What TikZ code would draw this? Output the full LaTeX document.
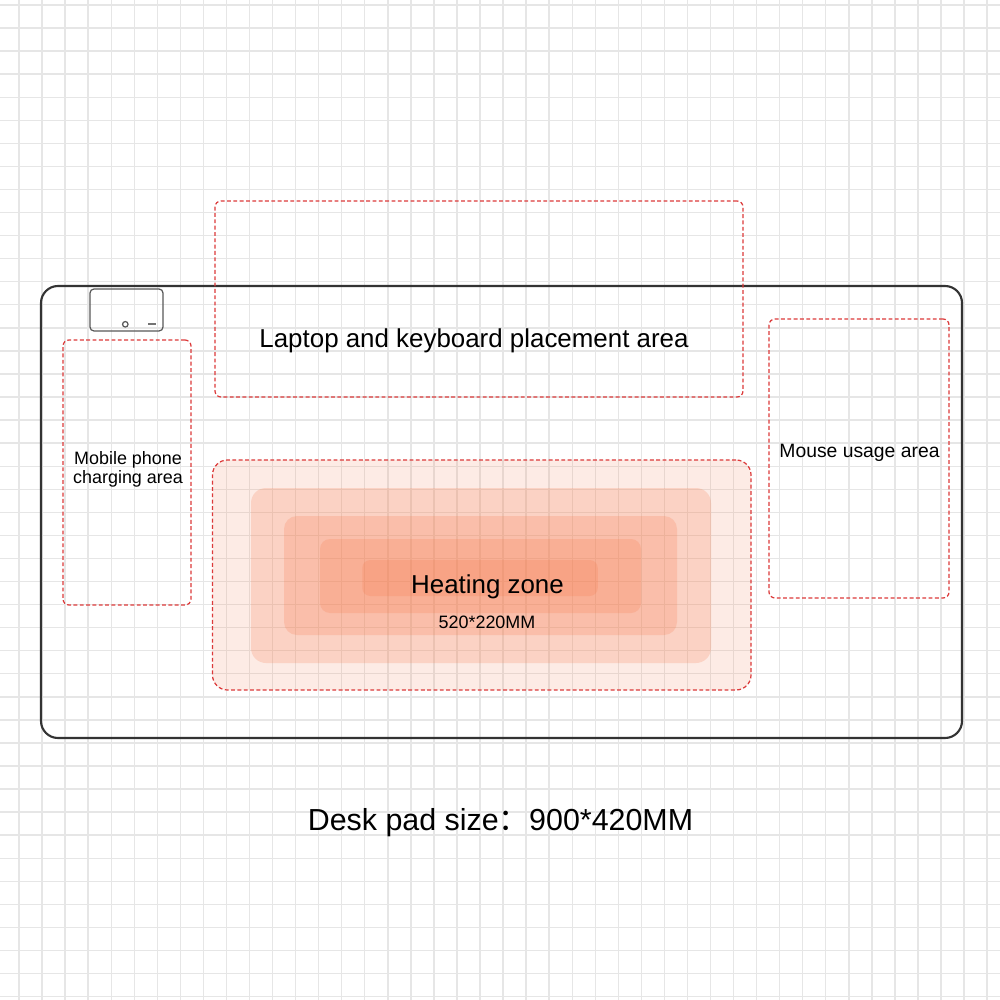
\documentclass[tikz,border=0pt]{standalone}
\usepackage{fontspec}
\setmainfont{Liberation Sans}
\newfontfamily\cjkfont{Noto Sans CJK SC}
\usepackage{xcolor}
\usepackage{tikz}
\usetikzlibrary{backgrounds}
\definecolor{gridgray}{HTML}{E6E6E6}
\definecolor{zonered}{HTML}{DC3A3A}
\definecolor{heatorange}{HTML}{F7784A}
\definecolor{padgray}{HTML}{333333}
\tikzset{
  gridln/.style={gridgray,line width=0.4pt},
  padbox/.style={draw=padgray,line width=0.6pt,rounded corners=1.7mm,inner sep=0pt},
  chgbox/.style={draw=black!65,line width=0.35pt,rounded corners=0.4mm,inner sep=0pt},
  zonebox/.style={draw=zonered,line width=0.35pt,dash pattern=on 1.1pt off 0.7pt,rounded corners=0.6mm,inner sep=0pt},
  heatlayer/.style={fill=heatorange,fill opacity=0.21,rounded corners=1.5mm,inner sep=0pt},
  lbl/.style={inner sep=0pt,anchor=base},
}

\begin{document}
\begin{tikzpicture}
  \useasboundingbox (0,0) rectangle (10,-10);
  \fill[white] (0,0) rectangle (10,-10);
  \foreach \k in {0,...,42}
    \draw[gridln] ({0.19+0.2305*\k},0) -- ({0.19+0.2305*\k},-10);
  \foreach \k in {0,...,43}
    \draw[gridln] (0,{-0.05-0.2306*\k}) -- (10,{-0.05-0.2306*\k});

  \node[padbox,minimum width=9.21cm,minimum height=4.52cm] (pad) at (5.015,-5.12) {};
  \node[chgbox,minimum width=0.73cm,minimum height=0.42cm] (chg) at (1.265,-3.10) {};
  \node[circle,draw=black!65,line width=0.35pt,minimum size=0.55mm,inner sep=0pt] (chgled) at (1.253,-3.243) {};
  \draw[black!55,line width=0.5pt] (1.48,-3.243) -- (1.56,-3.243);

  \node[zonebox,minimum width=5.28cm,minimum height=1.96cm] (laptop) at (4.79,-2.99) {};
  \node[zonebox,minimum width=1.28cm,minimum height=2.65cm] (phone) at (1.27,-4.725) {};
  \node[zonebox,minimum width=1.80cm,minimum height=2.79cm] (mouse) at (8.59,-4.585) {};

  \node[heatlayer,fill opacity=0.14,zonebox,rounded corners=1.5mm,minimum width=5.385cm,minimum height=2.30cm] (heat1) at (4.8175,-5.75) {};
  \foreach \i/\x/\y/\w/\h/\r in {2/4.81/-5.755/4.60/1.75/1.5mm, 3/4.805/-5.755/3.93/1.19/1.3mm,
      4/4.805/-5.76/3.21/0.74/1.0mm, 5/4.80/-5.78/2.355/0.36/0.8mm}
    \node[heatlayer,rounded corners=\r,minimum width=\w cm,minimum height=\h cm] (heat\i) at (\x,\y) {};

  \node[lbl,font=\fontsize{7.37}{8.8}\selectfont] (laptoplbl) at (4.74,-3.48) {Laptop and keyboard placement area};
  \node[inner sep=0pt,align=center,font=\fontsize{5.1}{5.2}\selectfont] (phonelbl) at (1.28,-4.695) {Mobile phone\\charging area};
  \node[lbl,font=\fontsize{5.5}{6.6}\selectfont] (mouselbl) at (8.595,-4.58) {Mouse usage area};
  \node[lbl,font=\fontsize{7.37}{8.8}\selectfont] (heatlbl) at (4.875,-5.933) {Heating zone};
  \node[lbl,font=\fontsize{5.1}{6.1}\selectfont] (heatsize) at (4.87,-6.283) {520*220MM};
  \node[lbl,font=\fontsize{8.65}{10.4}\selectfont] (padsize) at (5.005,-8.307) {Desk pad size{\cjkfont ：}900*420MM};
\end{tikzpicture}
\end{document}
